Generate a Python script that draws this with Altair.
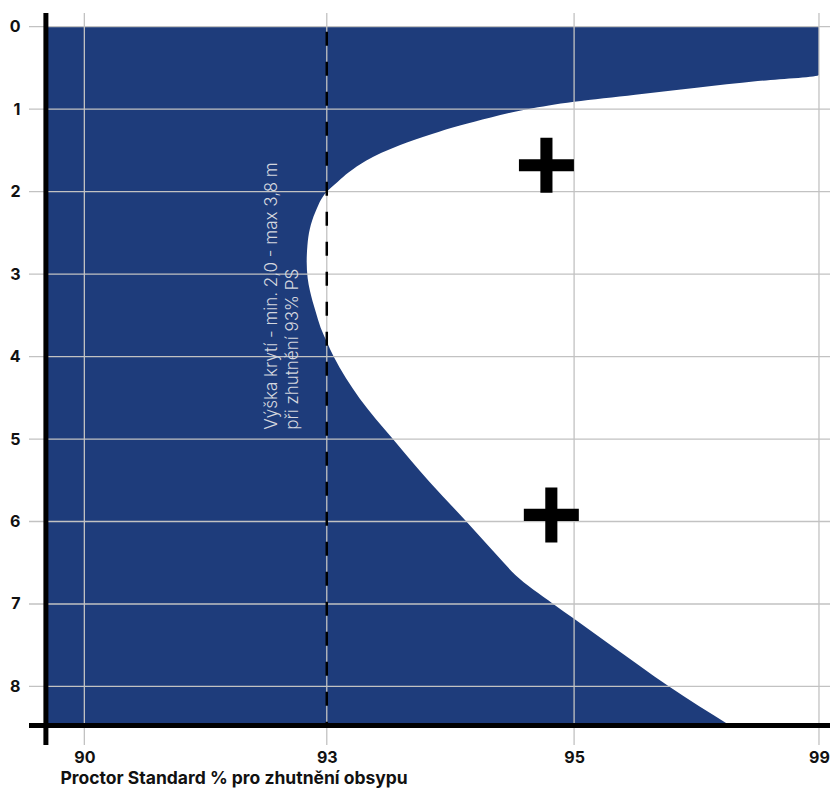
import altair as alt
import pandas as pd

# ---- data ----
x_tick_pos = [0.0, 0.99, 2.0, 3.0]          # equally spaced percent categories
x_tick_labels = ["90", "93", "95", "99"]
y_ticks = [0, 1, 2, 3, 4, 5, 6, 7, 8]

# boundary of the blue region: depth (m) -> position on the PS axis
depth = [0.0, 0.585, 0.66, 0.74, 0.825, 0.91, 1.0, 1.1, 1.2, 1.3, 1.435, 1.625,
         1.766, 1.88, 2.0, 2.25, 2.45, 2.65, 2.85, 3.05, 3.2, 3.46, 3.65, 3.82,
         4.0, 4.26, 4.51, 5.0, 5.52, 6.0, 6.49, 6.65, 7.0, 7.18, 7.5, 8.0, 8.47]
limit_pos = [3.0, 3.0, 2.75, 2.5, 2.25, 2.0, 1.81, 1.66, 1.53, 1.42, 1.29, 1.15,
             1.08, 1.035, 0.99, 0.943, 0.921, 0.911, 0.908, 0.912, 0.921, 0.945,
             0.965, 0.99, 1.018, 1.068, 1.125, 1.26, 1.41, 1.56, 1.71, 1.76,
             1.915, 2.0, 2.15, 2.388, 2.635]

left_edge = [-0.157]
bottom_edge = [8.475]
ref_pos = [0.99]            # 93 % PS
ref_depth_range = [0.0, 8.47]

plus_pos = [1.887, 1.907]
plus_depth = [1.68, 5.92]

note_lines = ["Výška krytí - min. 2,0 - max 3,8 m", "při zhutnění 93% PS"]
note_pos = [0.786]
note_depth = [4.887]

x_title = "Proctor Standard % pro zhutnění obsypu"

# ---- tables ----
curve = pd.DataFrame({"depth": depth, "pos": limit_pos})
hgrid = pd.DataFrame({"depth": y_ticks})
vgrid = pd.DataFrame({"pos": x_tick_pos})
vline = pd.DataFrame({"pos": left_edge})
hline = pd.DataFrame({"depth": bottom_edge})
ref = pd.DataFrame({"pos": ref_pos, "depth": [ref_depth_range[0]], "depth2": [ref_depth_range[1]]})
plus = pd.DataFrame({"pos": plus_pos, "depth": plus_depth})
note = pd.DataFrame({"pos": note_pos, "depth": note_depth, "label": ["\n".join(note_lines)]})

FONT = "Inter"
BLUE = "#1E3C7B"
GRID = "#c2c2c2"

label_expr = " : ".join(
    f"abs(datum.value - {p}) < 0.01 ? '{l}'" for p, l in zip(x_tick_pos, x_tick_labels)
) + " : ''"

xscale = alt.Scale(domain=[-0.226, 3.045], nice=False, zero=False)
yscale = alt.Scale(domain=[-0.166, 8.71], nice=False, zero=False, reverse=True)

xaxis = alt.Axis(values=x_tick_pos, labelExpr=label_expr, grid=False, domain=False,
                 ticks=False, tickSize=0, labelPadding=4, labelFont=FONT,
                 labelFontWeight="bold", labelFontSize=16, labelColor="#111111",
                 title=x_title, titleFont=FONT, titleFontSize=17.5, titleFontWeight="bold",
                 titleColor="#111111", titleAlign="left", titleAnchor="start",
                 titleBaseline="alphabetic", titleX=31, titleY=38)
yaxis = alt.Axis(values=y_ticks, grid=False, domain=False, ticks=False, tickSize=0,
                 labelPadding=9, labelFont=FONT, labelFontWeight="bold",
                 labelFontSize=16, labelColor="#111111", title=None)


def X(field="pos"):
    return alt.X(field, type="quantitative", scale=xscale, axis=xaxis)


def Y(field="depth"):
    return alt.Y(field, type="quantitative", scale=yscale, axis=yaxis)


area = alt.Chart(curve).mark_area(orient="horizontal", color=BLUE, interpolate="monotone").encode(
    y=Y(), x=X(), x2=alt.datum(left_edge[0])
)

hgrid_l = alt.Chart(hgrid).mark_rule(color=GRID, strokeWidth=1.3).encode(y=Y())
vgrid_l = alt.Chart(vgrid).mark_rule(color=GRID, strokeWidth=1.3).encode(x=X())

ref_l = alt.Chart(ref).mark_rule(color="black", strokeWidth=2.5, strokeDash=[14, 16],
                                 strokeDashOffset=25).encode(
    x=X(), y=Y(), y2="depth2"
)

vline_l = alt.Chart(vline).mark_rule(color="black", strokeWidth=5).encode(x=X())
hline_l = alt.Chart(hline).mark_rule(color="black", strokeWidth=5).encode(y=Y())

note_l = alt.Chart(note).mark_text(angle=270, align="left", baseline="alphabetic",
                                   font=FONT, fontWeight=300, fontSize=17, lineHeight=21,
                                   lineBreak="\n", color="#d4d7df").encode(
    x=X(), y=Y(), text="label:N"
)

PLUS = "M-0.22,-1H0.22V-0.22H1V0.22H0.22V1H-0.22V0.22H-1V-0.22H-0.22Z"
plus_l = alt.Chart(plus).mark_point(shape=PLUS, size=3025, filled=True, color="black",
                                    opacity=1, strokeWidth=0).encode(x=X(), y=Y())

chart = alt.layer(area, hgrid_l, vgrid_l, ref_l, vline_l, hline_l, note_l, plus_l).properties(
    width=801, height=732,
    padding={"left": 21, "top": 5, "right": 0, "bottom": 43},
    autosize=alt.AutoSizeParams(type="none"),
    background="white",
).configure_view(strokeWidth=0)

chart.save("out.html", embed_options={"renderer": "svg", "actions": False})
